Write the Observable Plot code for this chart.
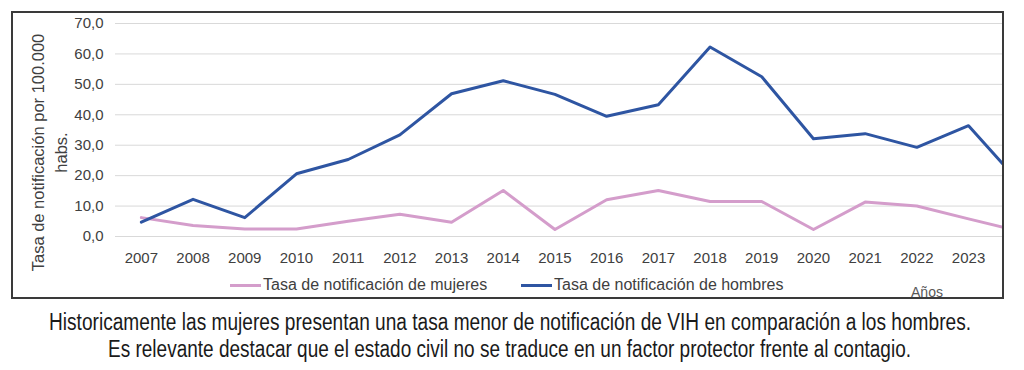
<!DOCTYPE html>
<html>
<head>
<meta charset="utf-8">
<script src="https://cdn.jsdelivr.net/npm/d3@7"></script>
<script src="https://cdn.jsdelivr.net/npm/@observablehq/plot@0.6"></script>
<style>
  body { margin: 0; background: #fff; width: 1024px; height: 370px; position: relative; overflow: hidden;
         font-family: "Liberation Sans", Arial, sans-serif; }
  #box { position: absolute; left: 11px; top: 11px; width: 989px; height: 284px;
         border: 2px solid #3a3a3a; overflow: hidden; background: #fff; }
  #box svg { display: block; }
  .leg { position: absolute; top: 276px; height: 18px; display: flex; align-items: center;
         font-size: 16px; color: #404040; white-space: nowrap; }
  .leg .sw { display: inline-block; width: 31px; height: 3px; margin-right: 2px; }
  #anos { position: absolute; left: 884px; width: 60px; top: 271px; text-align: center;
          font-size: 14px; line-height: 16px; color: #595959; }
  #caption { position: absolute; left: 0; top: 300px; display: block; }
</style>
</head>
<body>
<div id="box"><div id="anos"></div></div>
<div id="legend"></div>
<svg id="caption" width="1024" height="70" xmlns="http://www.w3.org/2000/svg"></svg>
<script>
// ---- data ----
const years = [2007, 2008, 2009, 2010, 2011, 2012, 2013, 2014, 2015, 2016, 2017, 2018, 2019, 2020, 2021, 2022, 2023, 2024];
const mujeres = [6.2, 3.6, 2.5, 2.5, 5.0, 7.3, 4.7, 15.1, 2.3, 12.1, 15.1, 11.5, 11.5, 2.3, 11.3, 10.0, 5.8, 1.7];
const hombres = [4.7, 12.2, 6.2, 20.6, 25.3, 33.4, 46.9, 51.2, 46.7, 39.5, 43.3, 62.3, 52.5, 32.1, 33.8, 29.3, 36.4, 17.5];
const seriesNames = ["Tasa de notificación de mujeres", "Tasa de notificación de hombres"];
const seriesColors = ["#d49dcb", "#2e55a2"];
const xTickYears = [2007, 2008, 2009, 2010, 2011, 2012, 2013, 2014, 2015, 2016, 2017, 2018, 2019, 2020, 2021, 2022, 2023];
const yTicks = [0, 10, 20, 30, 40, 50, 60, 70];
const yTitle = "Tasa de notificación por 100.000\nhabs.";
const xTitle = "Años";
const captionLines = [
  "Historicamente las mujeres presentan una tasa menor de notificación de VIH en comparación a los hombres.",
  "Es relevante destacar que el estado civil no se traduce en un factor protector frente al contagio."
];

const rows = [];
years.forEach((yr, i) => {
  rows.push({ year: yr, value: mujeres[i], series: seriesNames[0] });
  rows.push({ year: yr, value: hombres[i], series: seriesNames[1] });
});

const chart = Plot.plot({
  width: 989,
  height: 284,
  marginTop: 10,
  marginBottom: 61,
  marginLeft: 102,
  marginRight: 0,
  style: { fontFamily: '"Liberation Sans", Arial, sans-serif', fontSize: "15px", color: "#404040", overflow: "hidden", background: "#fff" },
  x: { domain: [2006.5, 2024.5], range: [102, 102 + 18 * 51.7] },
  y: { domain: [0, 70] },
  color: { domain: seriesNames, range: seriesColors },
  marks: [
    Plot.ruleY(yTicks, { stroke: "#d9d9d9", strokeWidth: 1 }),
    Plot.axisY({ ticks: yTicks, tickSize: 0, tickPadding: 12, label: null,
                 tickFormat: d => d.toFixed(1).replace(".", ","), fill: "#404040" }),
    Plot.axisX({ ticks: xTickYears, tickSize: 0, tickPadding: 16, label: null,
                 tickFormat: d => String(d), fill: "#404040" }),
    Plot.lineY(rows.filter(d => d.series === seriesNames[0]), { x: "year", y: "value", stroke: "series", strokeWidth: 3, clip: true }),
    Plot.lineY(rows.filter(d => d.series === seriesNames[1]), { x: "year", y: "value", stroke: "series", strokeWidth: 3, clip: true }),
    Plot.text([yTitle], { text: d => d, frameAnchor: "left", textAnchor: "middle", lineAnchor: "middle",
                          rotate: -90, dx: -67, dy: 22.5, lineHeight: 1.4, fontSize: 16.5, fill: "#404040" })
  ]
});
document.getElementById("box").insertBefore(chart, document.getElementById("anos"));
document.getElementById("anos").textContent = xTitle;

// legend
const legendPos = [230, 521];
const legend = document.getElementById("legend");
seriesNames.forEach((name, i) => {
  const d = document.createElement("div");
  d.className = "leg";
  d.style.left = legendPos[i] + "px";
  d.innerHTML = `<span class="sw" style="background:${seriesColors[i]}"></span><span></span>`;
  d.lastChild.textContent = name;
  legend.appendChild(d);
});

// caption (SVG text, condensed look: fitted width, stretched height)
const NS = "http://www.w3.org/2000/svg";
const cap = document.getElementById("caption");
const capLayout = [{ x: 510, y: 30, w: 922 }, { x: 509.5, y: 56.7, w: 803 }];
const capFont = 19, capStretch = 17 / (0.716 * 19);
captionLines.forEach((line, i) => {
  const g = document.createElementNS(NS, "g");
  g.setAttribute("transform", `translate(${capLayout[i].x - capLayout[i].w / 2},${capLayout[i].y}) scale(1,${capStretch})`);
  const t = document.createElementNS(NS, "text");
  t.setAttribute("x", 0);
  t.setAttribute("y", 0);
  t.setAttribute("textLength", capLayout[i].w);
  t.setAttribute("lengthAdjust", "spacingAndGlyphs");
  t.setAttribute("font-family", '"Liberation Sans", Arial, sans-serif');
  t.setAttribute("font-size", capFont);
  t.setAttribute("fill", "#1a1a1a");
  t.textContent = line;
  g.appendChild(t);
  cap.appendChild(g);
});
</script>
</body>
</html>
